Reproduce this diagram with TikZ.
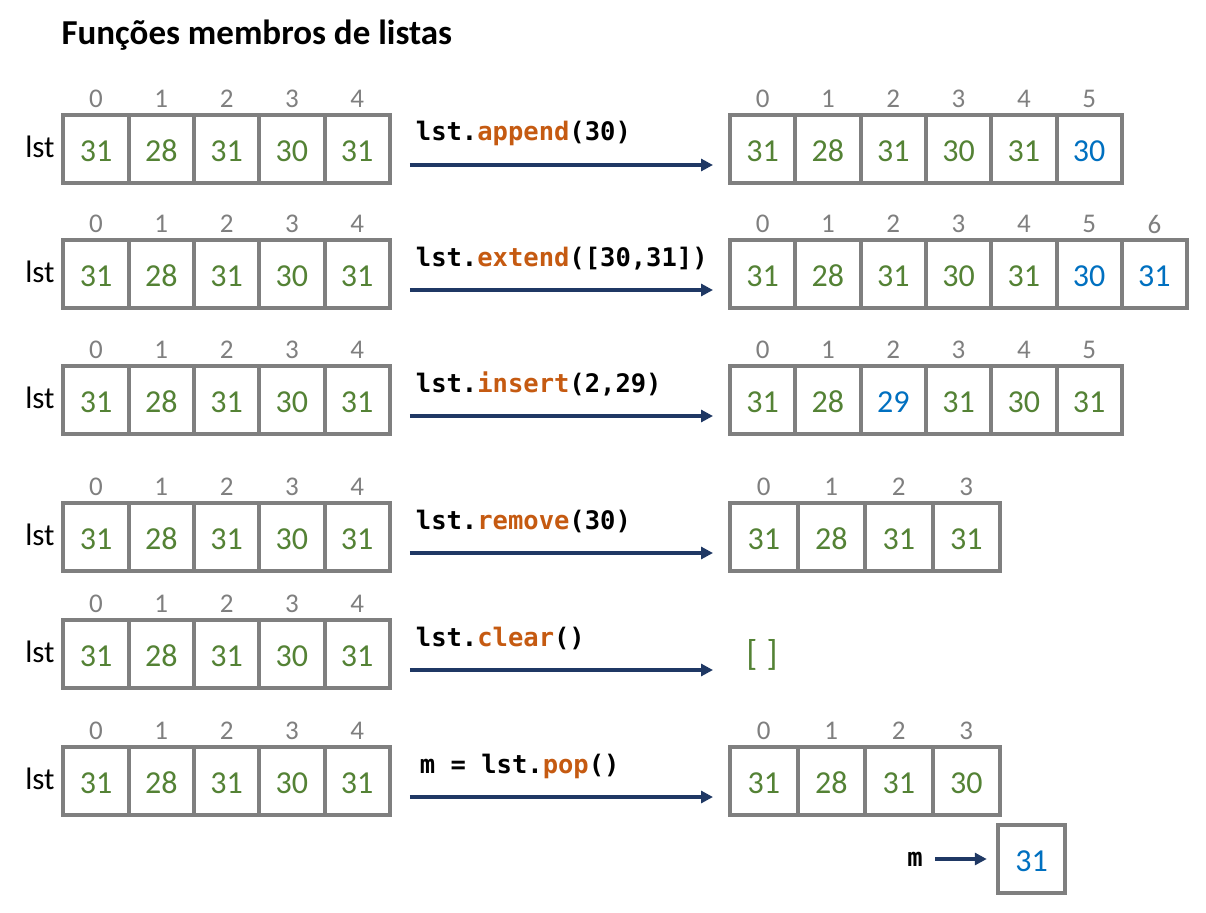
\documentclass[tikz,border=0pt]{standalone}
\usepackage{fontspec}
\setmainfont{Carlito}
\newfontfamily\codefont{DejaVu Sans Mono}
\usetikzlibrary{positioning}
\usetikzlibrary{arrows.meta,calc}
\definecolor{valgreen}{HTML}{548235}
\definecolor{valblue}{HTML}{0070C0}
\definecolor{cellgray}{HTML}{7F7F7F}
\definecolor{arrowblue}{HTML}{1F3864}
\definecolor{codeorange}{HTML}{C55A11}
\tikzstyle{cell}=[draw=cellgray,fill=white,line width=4pt,minimum width=65.3pt,minimum height=68pt,inner sep=0pt,text height=24pt,text depth=0pt,text=valgreen,font=\fontsize{32}{34}\selectfont]
\tikzstyle{index}=[text=cellgray,font=\fontsize{27}{29}\selectfont]
\tikzstyle{rowlabel}=[font=\fontsize{31}{33}\selectfont]
\tikzstyle{code}=[font=\codefont\bfseries\fontsize{25.5}{28}\selectfont]
\tikzstyle{edge}=[draw=arrowblue,line width=3.5pt,-{Triangle[length=12pt,width=12pt]}]
\newcommand{\meth}[1]{\textcolor{codeorange}{#1}}

\begin{document}
\begin{tikzpicture}[x=1pt,y=-1pt]
    \useasboundingbox (0,0) rectangle (1206,912);
    \node[anchor=west,font=\bfseries\fontsize{35}{38}\selectfont] (title) at (58,35) {Funções membros de listas};

    % lists before the call
    \foreach \row/\y in {1/149, 2/274, 3/400, 4/537, 5/654, 6/781} {
        \node[rowlabel] (lst\row) at (40,\y-2) {lst};
        \foreach \v [count=\i from 0] in {31,28,31,30,31} {
            \node[cell] (L\row-\i) at (96+65.3*\i,\y) {\v};
            \node[index] (L\row-\i-n) at (96+65.3*\i,\y-50) {\i};
        }
    }

    % lists after the call
    \foreach \row/\y/\w/\vals in {
        1/149/65.3/{31/valgreen,28/valgreen,31/valgreen,30/valgreen,31/valgreen,30/valblue},
        2/274/65.3/{31/valgreen,28/valgreen,31/valgreen,30/valgreen,31/valgreen,30/valblue,31/valblue},
        3/400/65.3/{31/valgreen,28/valgreen,29/valblue,31/valgreen,30/valgreen,31/valgreen},
        4/537/67.5/{31/valgreen,28/valgreen,31/valgreen,31/valgreen},
        6/781/67.5/{31/valgreen,28/valgreen,31/valgreen,30/valgreen}} {
        \foreach \v/\c [count=\i from 0] in \vals {
            \node[cell,text=\c,minimum width=\w pt] (R\row-\i) at (730+\w*\i+\w/2,\y) {\v};
            \node[index] (R\row-\i-n) at (730+\w*\i+\w/2,\y-50) {\i};
        }
    }
    \node[text=valgreen,font=\fontsize{36}{38}\selectfont] (R5-0) at (762,655) {[\hspace{9pt}]};

    % calls
    \foreach \row/\dx/\call in {1/1/{lst.\meth{append}(30)}, 2/1/{lst.\meth{extend}([30,31])},
        3/1/{lst.\meth{insert}(2,29)}, 4/1/{lst.\meth{remove}(30)}, 5/1/{lst.\meth{clear}()},
        6/5/{m = lst.\meth{pop}()}}
        \draw[edge] ($(L\row-4.east)+(18,16)$) -- node[code,pos=0,anchor=base west,xshift=\dx pt,yshift=24pt] {\call} ($(L\row-4.east -| R1-0.west)+(-15,16)$);

    % popped value
    \node[cell,text=valblue,minimum width=67.5pt] (mbox) at (1031.5,859) {31};
    \node[code] (mlab) at (915,859) {m};
    \draw[edge,shorten <=9pt,shorten >=9pt] (mlab) -- (mbox);
\end{tikzpicture}
\end{document}
